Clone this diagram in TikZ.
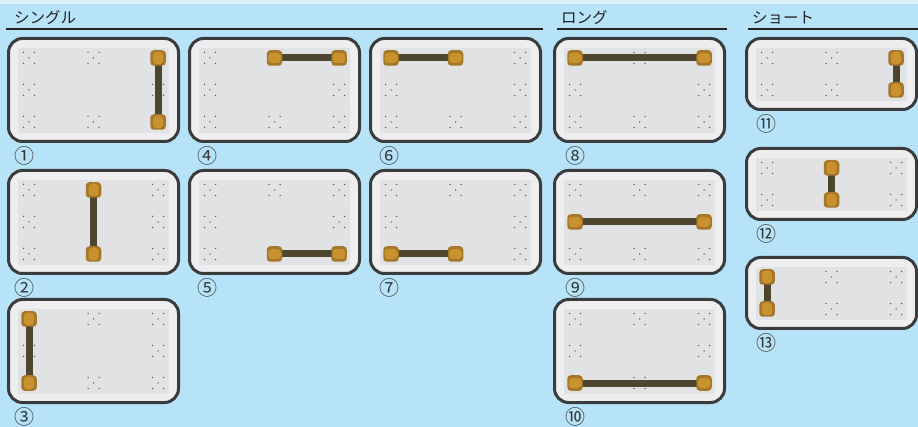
\documentclass[tikz,border=0pt]{standalone}
\usepackage{fontspec}
\newfontfamily\jp{Noto Sans CJK JP}
\definecolor{bg}{HTML}{B7E3F8}
\definecolor{topband}{HTML}{DCF1FB}
\definecolor{framec}{HTML}{EEEEF0}
\definecolor{edgec}{HTML}{3A3B3C}
\definecolor{innerc}{HTML}{E1E2E4}
\definecolor{dotc}{HTML}{555659}
\definecolor{barc}{HTML}{4E4530}
\definecolor{padrim}{HTML}{A57728}
\definecolor{padc}{HTML}{C8922F}
\definecolor{inkc}{HTML}{222222}
\newcommand\dice[2]{%
  \foreach \dx/\dy in {-5.5/-5.5,5.5/-5.5,0/0,-5.5/5.5,5.5/5.5}
    \fill[dotc] (#1+\dx,#2+\dy) circle (0.75);}
\newcommand\bigbd[3]{%
  \begin{scope}[shift={(#2,#3)}]
    \draw[framebox] (1.5,1.5) rectangle (171.5,104.5);
    \fill[innerc] (11,11) rectangle (162,96);
    \foreach \cx/\cy in {22/21,86.5/21,151/21,22/53,151/53,22/85,86.5/85,151/85}
      {\dice{\cx}{\cy}}
    \coordinate (#1-tl) at (22,21);
    \coordinate (#1-tm) at (86.5,21);
    \coordinate (#1-tr) at (151,21);
    \coordinate (#1-ml) at (22,53);
    \coordinate (#1-mr) at (151,53);
    \coordinate (#1-bl) at (22,85);
    \coordinate (#1-bm) at (86.5,85);
    \coordinate (#1-br) at (151,85);
  \end{scope}}
\newcommand\smallbd[3]{%
  \begin{scope}[shift={(#2,#3)}]
    \draw[framebox] (1.5,1.5) rectangle (171.5,72.5);
    \fill[innerc] (11,11) rectangle (162,64);
    \foreach \cx/\cy in {22/21,86.5/21,151/21,22/53,86.5/53,151/53}
      {\dice{\cx}{\cy}}
    \coordinate (#1-tl) at (22,21);
    \coordinate (#1-tm) at (86.5,21);
    \coordinate (#1-tr) at (151,21);
    \coordinate (#1-bl) at (22,53);
    \coordinate (#1-bm) at (86.5,53);
    \coordinate (#1-br) at (151,53);
  \end{scope}}
\newcommand\conn[4]{%
  \draw[barline] (#2) -- (#3);
  \node[pad] (#1a) at (#2) {};
  \node[blob#4] (#1ab) at (#2) {};
  \node[pad] (#1b) at (#3) {};
  \node[blob#4] (#1bb) at (#3) {};}
\begin{document}
\begin{tikzpicture}[x=1pt,y=-1pt,
  framebox/.style={draw=edgec,line width=3,fill=framec,rounded corners=14},
  barline/.style={draw=barc,line width=7},
  pad/.style={shape=rectangle,fill=padrim,minimum size=15.5,inner sep=0,rounded corners=3.5},
  blobv/.style={shape=rectangle,fill=padc,minimum width=10,minimum height=12.5,inner sep=0,rounded corners=3.5},
  blobh/.style={shape=rectangle,fill=padc,minimum width=12.5,minimum height=10,inner sep=0,rounded corners=3.5},
  hdr/.style={font=\jp\fontsize{15.5}{15.5}\selectfont,text=inkc,inner sep=0},
  rulel/.style={draw=inkc,line width=2},
  lbl/.style={font=\jp\fontsize{20}{20}\selectfont,text=inkc!90,inner sep=0}]
\useasboundingbox (0,0) rectangle (918,427);
\fill[bg] (0,0) rectangle (918,427);
\fill[topband] (0,0) rectangle (918,4);
% headers
\node[hdr,anchor=base west] (h1) at (14,24) {シングル};
\node[hdr,anchor=base west] (h2) at (561,24) {ロング};
\node[hdr,anchor=base west] (h3) at (752,24) {ショート};
\draw[rulel] (6,29.5) -- (543,29.5);
\draw[rulel] (557,29.5) -- (727,29.5);
\draw[rulel] (748,29.5) -- (918,29.5);
% boards
\bigbd{b1}{7}{37}
\bigbd{b2}{7}{169}
\bigbd{b3}{7}{298}
\bigbd{b4}{188}{37}
\bigbd{b5}{188}{169}
\bigbd{b6}{369}{37}
\bigbd{b7}{369}{169}
\bigbd{b8}{553}{37}
\bigbd{b9}{553}{169}
\bigbd{b10}{553}{298}
\smallbd{b11}{745}{37}
\smallbd{b12}{745}{147}
\smallbd{b13}{745}{256}
% connectors
\conn{c1}{b1-tr}{b1-br}{v}
\conn{c2}{b2-tm}{b2-bm}{v}
\conn{c3}{b3-tl}{b3-bl}{v}
\conn{c4}{b4-tm}{b4-tr}{h}
\conn{c5}{b5-bm}{b5-br}{h}
\conn{c6}{b6-tl}{b6-tm}{h}
\conn{c7}{b7-bl}{b7-bm}{h}
\conn{c8}{b8-tl}{b8-tr}{h}
\conn{c9}{b9-ml}{b9-mr}{h}
\conn{c10}{b10-bl}{b10-br}{h}
\conn{c11}{b11-tr}{b11-br}{v}
\conn{c12}{b12-tm}{b12-bm}{v}
\conn{c13}{b13-tl}{b13-bl}{v}
% labels
\node[lbl] (l1) at (24,156) {①};
\node[lbl] (l2) at (24,288) {②};
\node[lbl] (l3) at (24,417) {③};
\node[lbl] (l4) at (207,156) {④};
\node[lbl] (l5) at (207,288) {⑤};
\node[lbl] (l6) at (389,156) {⑥};
\node[lbl] (l7) at (389,288) {⑦};
\node[lbl] (l8) at (575,156) {⑧};
\node[lbl] (l9) at (575,288) {⑨};
\node[lbl] (l10) at (575,417) {⑩};
\node[lbl] (l11) at (766,124) {⑪};
\node[lbl] (l12) at (766,234) {⑫};
\node[lbl] (l13) at (766,343) {⑬};
\end{tikzpicture}
\end{document}
